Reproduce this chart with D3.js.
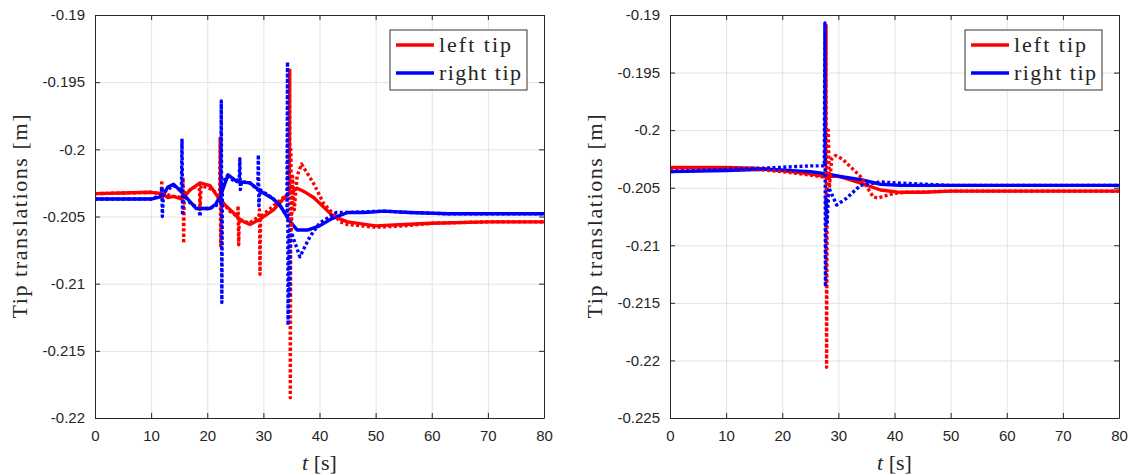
<!DOCTYPE html>
<html>
<head>
<meta charset="utf-8">
<script src="https://cdn.jsdelivr.net/npm/d3@7"></script>
<style>
  body { margin: 0; background: #fff; }
  .tick text { font-family: "Liberation Sans", Arial, sans-serif; font-size: 15px; fill: #262626; }
  .serif { font-family: "Liberation Serif", "Times New Roman", serif; fill: #262626; }
</style>
</head>
<body>
<svg id="chart" width="1135" height="475"></svg>
<script>
// ---- data: [t (s), translation (m)] ----
var p1LeftSolid = [[0,-0.2033],[5,-0.20325],[10,-0.2032],[12,-0.2033],[13,-0.2036],[14,-0.2035],[15.5,-0.2037],[17,-0.2030],[18.7,-0.2025],[20.5,-0.2027],[22.3,-0.2038],[24.6,-0.2047],[26,-0.2053],[27.6,-0.2056],[29.4,-0.2052],[31.8,-0.2045],[34.2,-0.2034],[36,-0.2029],[37.5,-0.2032],[39,-0.2036],[40.5,-0.2042],[42.5,-0.2050],[45,-0.2054],[50,-0.2057],[55,-0.2056],[60,-0.2055],[70,-0.2054],[80,-0.2054]];
var p1RightSolid = [[0,-0.2037],[10,-0.2037],[12,-0.2035],[13,-0.2028],[14,-0.2026],[15,-0.2030],[16.3,-0.2036],[18,-0.2044],[20.5,-0.2044],[21.5,-0.2041],[22.5,-0.2033],[23.7,-0.2019],[25.3,-0.2024],[27.6,-0.2025],[29.4,-0.2031],[31.8,-0.2037],[33,-0.2042],[34.8,-0.2054],[36,-0.2060],[38,-0.2060],[40,-0.2057],[42,-0.2052],[45,-0.2047],[48,-0.2047],[51.5,-0.2046],[56,-0.2047],[63,-0.2048],[70,-0.2048],[80,-0.2048]];
var p1LeftDotted = [[0,-0.2033],[10,-0.2032],[11.8,-0.2033],[11.9,-0.2023],[12.0,-0.2037],[12.2,-0.2033],[14,-0.2035],[15.6,-0.2036],[15.7,-0.2021],[15.8,-0.2070],[15.9,-0.2033],[17,-0.2030],[18.6,-0.2026],[18.7,-0.2045],[18.9,-0.2027],[21,-0.2030],[22.2,-0.2036],[22.3,-0.1991],[22.4,-0.2072],[22.5,-0.2038],[24,-0.2046],[25.4,-0.2050],[25.5,-0.2042],[25.6,-0.2071],[25.7,-0.2052],[27.5,-0.2055],[29.2,-0.2050],[29.3,-0.2045],[29.4,-0.2093],[29.5,-0.2050],[31,-0.2045],[33.5,-0.2036],[34.6,-0.2033],[34.7,-0.1941],[34.8,-0.2185],[34.9,-0.2000],[35.0,-0.2060],[35.2,-0.2020],[35.5,-0.2045],[36.0,-0.2020],[36.8,-0.2011],[38.9,-0.2025],[40.7,-0.2040],[43.7,-0.2054],[45,-0.2056],[50,-0.2058],[55,-0.2057],[60,-0.2055],[70,-0.2054],[80,-0.2054]];
var p1RightDotted = [[0,-0.2037],[10,-0.2037],[11.8,-0.2034],[11.9,-0.2028],[12.0,-0.2050],[12.2,-0.2032],[14,-0.2027],[15.4,-0.2031],[15.5,-0.1992],[15.6,-0.2049],[15.8,-0.2034],[17,-0.2040],[18.5,-0.2044],[18.7,-0.2050],[18.9,-0.2044],[20.5,-0.2044],[22.4,-0.2040],[22.5,-0.1964],[22.6,-0.2114],[22.7,-0.2025],[23.5,-0.2020],[25,-0.2024],[25.7,-0.2022],[25.8,-0.2007],[25.9,-0.2030],[26.1,-0.2024],[27.6,-0.2025],[29.0,-0.2030],[29.1,-0.2004],[29.2,-0.2042],[29.4,-0.2030],[31.5,-0.2036],[33,-0.2042],[34.2,-0.2050],[34.3,-0.1935],[34.4,-0.2131],[34.5,-0.2100],[34.6,-0.2060],[34.7,-0.2110],[34.8,-0.2070],[35.0,-0.2062],[36.5,-0.2080],[38.3,-0.2065],[40,-0.2055],[43,-0.2047],[45,-0.2047],[51.5,-0.2046],[56,-0.2047],[63,-0.2048],[80,-0.2048]];

var p2LeftSolid = [[0,-0.20325],[10,-0.20325],[15,-0.2033],[20,-0.2035],[25,-0.2038],[27.5,-0.2040],[30,-0.2040],[34,-0.2046],[37.5,-0.2052],[41,-0.2054],[45,-0.2054],[50,-0.2053],[80,-0.2053]];
var p2RightSolid = [[0,-0.2036],[10,-0.2035],[17,-0.2034],[25,-0.2036],[28,-0.2038],[30,-0.2040],[34,-0.2043],[37.5,-0.2047],[41,-0.2048],[50,-0.2048],[80,-0.2048]];
var p2LeftDotted = [[0,-0.2033],[15,-0.2034],[20,-0.2036],[25,-0.2039],[27.7,-0.2041],[27.8,-0.1909],[27.9,-0.2206],[28.0,-0.2060],[28.2,-0.2000],[28.4,-0.2050],[28.8,-0.2025],[29.5,-0.2022],[30.7,-0.2025],[33.9,-0.2040],[36.2,-0.2058],[37,-0.2059],[39.8,-0.2055],[42,-0.2054],[50,-0.2053],[80,-0.2053]];
var p2RightDotted = [[0,-0.2036],[10,-0.2034],[17,-0.2033],[25,-0.2031],[27.5,-0.2031],[27.6,-0.1907],[27.7,-0.2136],[27.8,-0.2060],[28.0,-0.2080],[28.3,-0.2050],[29.7,-0.2065],[31.5,-0.2059],[33.9,-0.2048],[37.4,-0.2045],[41,-0.2046],[50,-0.2048],[80,-0.2048]];

var xTicks = [0, 10, 20, 30, 40, 50, 60, 70, 80];
var y1Ticks = [-0.22, -0.215, -0.21, -0.205, -0.2, -0.195, -0.19];
var y2Ticks = [-0.225, -0.22, -0.215, -0.21, -0.205, -0.2, -0.195, -0.19];
var legendNames = ["left tip", "right tip"];
var colors = ["#ff0000", "#0000ff"];

var svg = d3.select("#chart");
var axisColor = "#262626";

function drawPanel(left, yDomain, yTicks, series, id) {
    var top = 15, bottom = 418, right = left + 449;
    var x = d3.scaleLinear().domain([0, 80]).range([left, right]);
    var y = d3.scaleLinear().domain(yDomain).range([bottom, top]);

    var g = svg.append("g");

    g.append("clipPath").attr("id", "clip" + id)
        .append("rect")
        .attr("x", left).attr("y", top - 2)
        .attr("width", right - left).attr("height", bottom - top + 4);

    // grid
    g.append("g")
        .attr("transform", "translate(0," + bottom + ")")
        .call(d3.axisBottom(x).tickValues(xTicks).tickSize(-(bottom - top)).tickFormat(""))
        .call(s => s.select(".domain").remove())
        .call(s => s.selectAll("line").attr("stroke", "#e3e3e3"));
    g.append("g")
        .attr("transform", "translate(" + left + ",0)")
        .call(d3.axisLeft(y).tickValues(yTicks).tickSize(-(right - left)).tickFormat(""))
        .call(s => s.select(".domain").remove())
        .call(s => s.selectAll("line").attr("stroke", "#e3e3e3"));

    // lines
    var line = d3.line().x(d => x(d[0])).y(d => y(d[1]));
    var lines = g.append("g").attr("clip-path", "url(#clip" + id + ")");
    series.forEach(function (s) {
        lines.append("path")
            .datum(s.data)
            .attr("d", line)
            .attr("fill", "none")
            .attr("stroke", s.color)
            .attr("stroke-width", 3.4)
            .attr("stroke-linejoin", "round")
            .attr("stroke-dasharray", s.dotted ? "3,2.4" : null);
    });

    // axes (box)
    var fmt = d => String(d);
    var axes = g.append("g").attr("class", "axes");
    axes.append("g")
        .attr("transform", "translate(0," + bottom + ")")
        .call(d3.axisBottom(x).tickValues(xTicks).tickSize(-5).tickPadding(12).tickSizeOuter(0).tickFormat(fmt));
    axes.append("g")
        .attr("transform", "translate(0," + top + ")")
        .call(d3.axisTop(x).tickValues(xTicks).tickSize(-5).tickFormat("").tickSizeOuter(0));
    axes.append("g")
        .attr("transform", "translate(" + left + ",0)")
        .call(d3.axisLeft(y).tickValues(yTicks).tickSize(-5).tickPadding(10).tickSizeOuter(0).tickFormat(fmt));
    axes.append("g")
        .attr("transform", "translate(" + right + ",0)")
        .call(d3.axisRight(y).tickValues(yTicks).tickSize(-5).tickFormat("").tickSizeOuter(0));
    axes.selectAll(".domain, .tick line").attr("stroke", axisColor);

    // axis labels
    var xl = g.append("text").attr("class", "serif")
        .attr("x", (left + right) / 2).attr("y", 470)
        .attr("text-anchor", "middle")
        .style("font-size", "22px");
    xl.append("tspan").attr("font-style", "italic").text("t");
    xl.append("tspan").text(" [s]");

    g.append("text").attr("class", "serif")
        .attr("transform", "translate(" + (left - 68) + "," + ((top + bottom) / 2) + ") rotate(-90)")
        .attr("text-anchor", "middle")
        .attr("textLength", 204)
        .style("font-size", "22px")
        .text("Tip translations [m]");

    // legend
    var lx = left + 295, ly = 30;
    var lg = g.append("g");
    lg.append("rect")
        .attr("x", lx).attr("y", ly).attr("width", 137).attr("height", 60)
        .attr("fill", "#fff").attr("stroke", "#333").attr("stroke-width", 1);
    legendNames.forEach(function (name, i) {
        var yy = ly + 15 + i * 28;
        lg.append("line")
            .attr("x1", lx + 6).attr("x2", lx + 44)
            .attr("y1", yy).attr("y2", yy)
            .attr("stroke", colors[i]).attr("stroke-width", 3.4);
        lg.append("text").attr("class", "serif")
            .attr("x", lx + 49).attr("y", yy + 7)
            .attr("textLength", i === 0 ? 72 : 82)
            .style("font-size", "22px")
            .text(name);
    });
}

drawPanel(95, [-0.22, -0.19], y1Ticks, [
    { data: p1LeftSolid, color: colors[0], dotted: false },
    { data: p1RightSolid, color: colors[1], dotted: false },
    { data: p1LeftDotted, color: colors[0], dotted: true },
    { data: p1RightDotted, color: colors[1], dotted: true }
], 1);

drawPanel(670, [-0.225, -0.19], y2Ticks, [
    { data: p2LeftSolid, color: colors[0], dotted: false },
    { data: p2RightSolid, color: colors[1], dotted: false },
    { data: p2LeftDotted, color: colors[0], dotted: true },
    { data: p2RightDotted, color: colors[1], dotted: true }
], 2);
</script>
</body>
</html>
